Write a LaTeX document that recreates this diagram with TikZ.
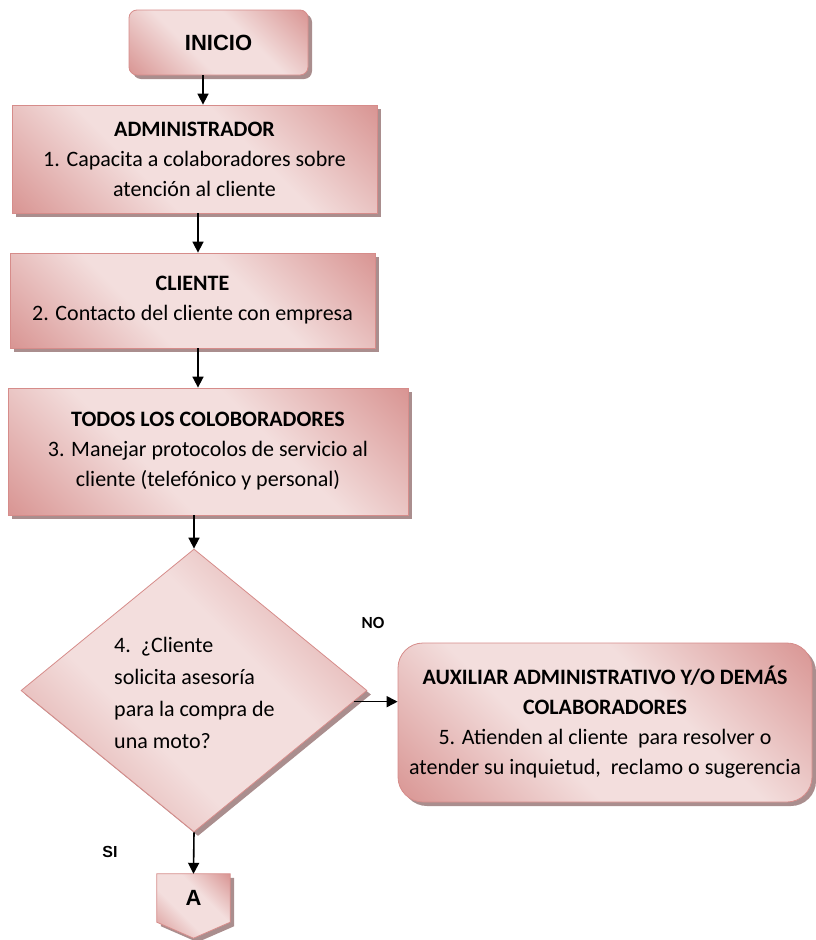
\documentclass[tikz,border=0pt]{standalone}
\usepackage{fontspec}
\setmainfont{Carlito}
\newfontfamily\arialf{Liberation Sans}
\usetikzlibrary{shapes.geometric,shadows,arrows.meta,calc}
\definecolor{pklight}{RGB}{243,222,221}
\definecolor{pkdark}{RGB}{217,150,148}
\definecolor{pkborder}{RGB}{214,140,138}
\definecolor{shadowc}{RGB}{170,142,142}
\pgfdeclarehorizontalshading{pinkdiag}{100bp}{color(0bp)=(pkdark); color(15bp)=(pkdark); color(40bp)=(pklight); color(60bp)=(pklight); color(85bp)=(pkdark); color(100bp)=(pkdark)}
\tikzset{
  pinkfill/.style={shade, shading=pinkdiag, shading angle=45, draw=pkborder, line width=0.8pt,
    drop shadow={opacity=1, fill=shadowc, shadow xshift=4pt, shadow yshift=-4pt}},
  procbox/.style={pinkfill, rectangle, inner sep=0pt, align=center, font=\fontsize{22}{30}\selectfont},
  decbox/.style={pinkfill, diamond, inner sep=0pt},
  arr/.style={-{Triangle[length=11pt,width=11pt]}, line width=1.6pt, black},
  lbl/.style={inner sep=0pt, font=\fontsize{17}{20}\selectfont\bfseries},
}
\begin{document}
\begin{tikzpicture}[x=1pt,y=-1pt]
\useasboundingbox (0,0) rectangle (815,940);
% nodes
\node[procbox, rounded corners=8pt, minimum width=179pt, minimum height=65pt,
      font=\arialf\bfseries\fontsize{22}{26}\selectfont] (inicio) at (218.5,42.5) {INICIO};
\node[procbox, minimum width=365pt, minimum height=108pt] (admin) at (194.5,159)
  {\textbf{ADMINISTRADOR}\\1. Capacita a colaboradores sobre\\atención al cliente};
\node[procbox, minimum width=365pt, minimum height=95pt] (cliente) at (192.5,300.5)
  {\textbf{CLIENTE}\\2. Contacto del cliente con empresa};
\node[procbox, minimum width=400pt, minimum height=127pt] (todos) at (208,451.5)
  {\textbf{TODOS LOS COLOBORADORES}\\3. Manejar protocolos de servicio al\\cliente (telefónico y personal)};
\node[decbox, minimum width=346pt, minimum height=283pt] (dec) at (194,690.5) {};
\node[inner sep=0pt, anchor=west, align=left, font=\fontsize{22}{32}\selectfont] (dect) at (114,693)
  {4.\ \ ¿Cliente\\solicita asesoría\\para la compra de\\una moto?};
\node[procbox, rounded corners=25pt, minimum width=414pt, minimum height=159pt] (aux) at (605,722.5)
  {\textbf{AUXILIAR ADMINISTRATIVO Y/O DEMÁS}\\\textbf{COLABORADORES}\\5. Atienden al cliente\ \ para resolver o\\atender su inquietud,\ \ reclamo o sugerencia};
% off-page connector
\node[inner sep=0pt, minimum width=73pt, minimum height=48pt] (conA) at (193.5,898) {};
\path[pinkfill] (conA.north west) -- (conA.north east) -- (conA.south east)
  -- ($(conA.south)+(0,16)$) -- (conA.south west) -- cycle;
\node[inner sep=0pt, font=\arialf\bfseries\fontsize{22}{26}\selectfont] (conAt) at (conA) {A};
% labels
\node[lbl] (no) at (373,623) {NO};
\node[lbl, font=\arialf\bfseries\fontsize{16}{20}\selectfont] (si) at (110,852) {SI};
% connectors
\coordinate (x1) at (203,0);
\coordinate (x2) at (198,0);
\draw[arr] (inicio.south -| x1) -- (admin.north -| x1);
\draw[arr] (admin.south -| x2) -- (cliente.north -| x2);
\draw[arr] (cliente.south -| x2) -- (todos.north -| x2);
\draw[arr] (todos.south -| dec.north) -- (dec.north);
\draw[arr] (dec.-4.3) -- (dec.-4.3 -| aux.west);
\draw[arr] (dec.south) -- (conA.north);
\end{tikzpicture}
\end{document}
